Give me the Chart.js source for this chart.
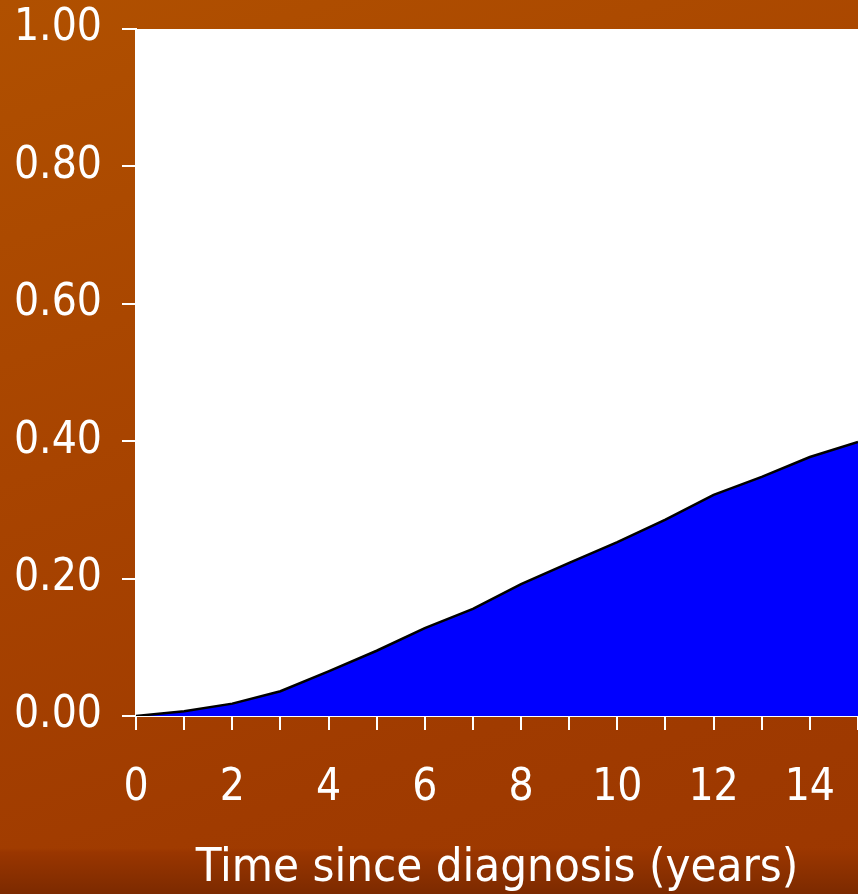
<!DOCTYPE html>
<html>
<head>
<meta charset="utf-8">
<script src="https://cdn.jsdelivr.net/npm/chart.js@4"></script>
<style>
    html, body { margin: 0; padding: 0; }
    body {
        width: 858px;
        height: 894px;
        overflow: hidden;
        background:
            linear-gradient(to bottom, rgba(0,0,0,0) 0px, rgba(0,0,0,0) 848px, #9a3600 852px, #7c2a00 894px),
            linear-gradient(160deg, #b05000 0%, #a84400 40%, #a03b00 75%, #9c3700 100%);
    }
    #wrap { position: relative; width: 858px; height: 894px; }
</style>
</head>
<body>
<div id="wrap"><canvas id="incidenceChart" width="858" height="894"></canvas></div>
<script>
// cumulative incidence, one value per year
const years = [0, 1, 2, 3, 4, 5, 6, 7, 8, 9, 10, 11, 12, 13, 14, 15];
const cumIncidence = [0, 0.007, 0.018, 0.036, 0.065, 0.095, 0.128, 0.156, 0.192, 0.223, 0.253, 0.286, 0.322, 0.348, 0.377, 0.399];
const yTicks = [0, 0.2, 0.4, 0.6, 0.8, 1.0];

const fontFamily = "'DejaVu Sans Condensed', 'DejaVu Sans', sans-serif";

// white plot area behind the data
const plotBackground = {
    id: "plotBackground",
    beforeDraw(chart) {
        const { ctx, chartArea } = chart;
        ctx.save();
        ctx.fillStyle = "#ffffff";
        ctx.fillRect(chartArea.left, chartArea.top, chartArea.right - chartArea.left, chartArea.bottom - chartArea.top);
        ctx.restore();
    }
};

new Chart(document.getElementById("incidenceChart"), {
    type: "line",
    data: {
        datasets: [{
            data: years.map((x, i) => ({ x: x, y: cumIncidence[i] })),
            borderColor: "#000000",
            borderWidth: 2.5,
            backgroundColor: "#0000ff",
            fill: "origin",
            pointRadius: 0,
            tension: 0
        }]
    },
    options: {
        responsive: false,
        animation: false,
        layout: { padding: { top: 29, right: 0, left: 0, bottom: 0 } },
        plugins: {
            legend: { display: false },
            tooltip: { enabled: false }
        },
        scales: {
            x: {
                type: "linear",
                min: 0,
                max: 15,
                afterFit: (scale) => {
                    scale.height = 178;
                    scale.paddingLeft = 0;
                    scale.paddingRight = 0;
                },
                afterBuildTicks: (scale) => { scale.ticks = years.map(v => ({ value: v })); },
                ticks: {
                    color: "#ffffff",
                    font: { family: fontFamily, size: 44 },
                    padding: 32,
                    maxRotation: 0,
                    autoSkip: false,
                    callback: (v) => (v % 2 === 0 ? String(v) : "")
                },
                grid: {
                    drawOnChartArea: false,
                    color: "#ffffff",
                    lineWidth: 2,
                    tickLength: 14
                },
                border: { color: "#ffffff", width: 2 },
                title: {
                    display: true,
                    text: "Time since diagnosis (years)",
                    color: "#ffffff",
                    font: { family: fontFamily, size: 47 },
                    padding: { top: 0, bottom: -3 }
                }
            },
            y: {
                min: 0,
                max: 1,
                afterFit: (scale) => {
                    scale.width = 136;
                    scale.paddingTop = 0;
                    scale.paddingBottom = 0;
                },
                afterBuildTicks: (scale) => { scale.ticks = yTicks.map(v => ({ value: v })); },
                ticks: {
                    color: "#ffffff",
                    font: { family: fontFamily, size: 44 },
                    padding: 20,
                    callback: (v) => v.toFixed(2)
                },
                grid: {
                    drawOnChartArea: false,
                    color: "#ffffff",
                    lineWidth: 2,
                    tickLength: 14
                },
                border: { color: "#ffffff", width: 2 }
            }
        }
    },
    plugins: [plotBackground]
});
</script>
</body>
</html>
